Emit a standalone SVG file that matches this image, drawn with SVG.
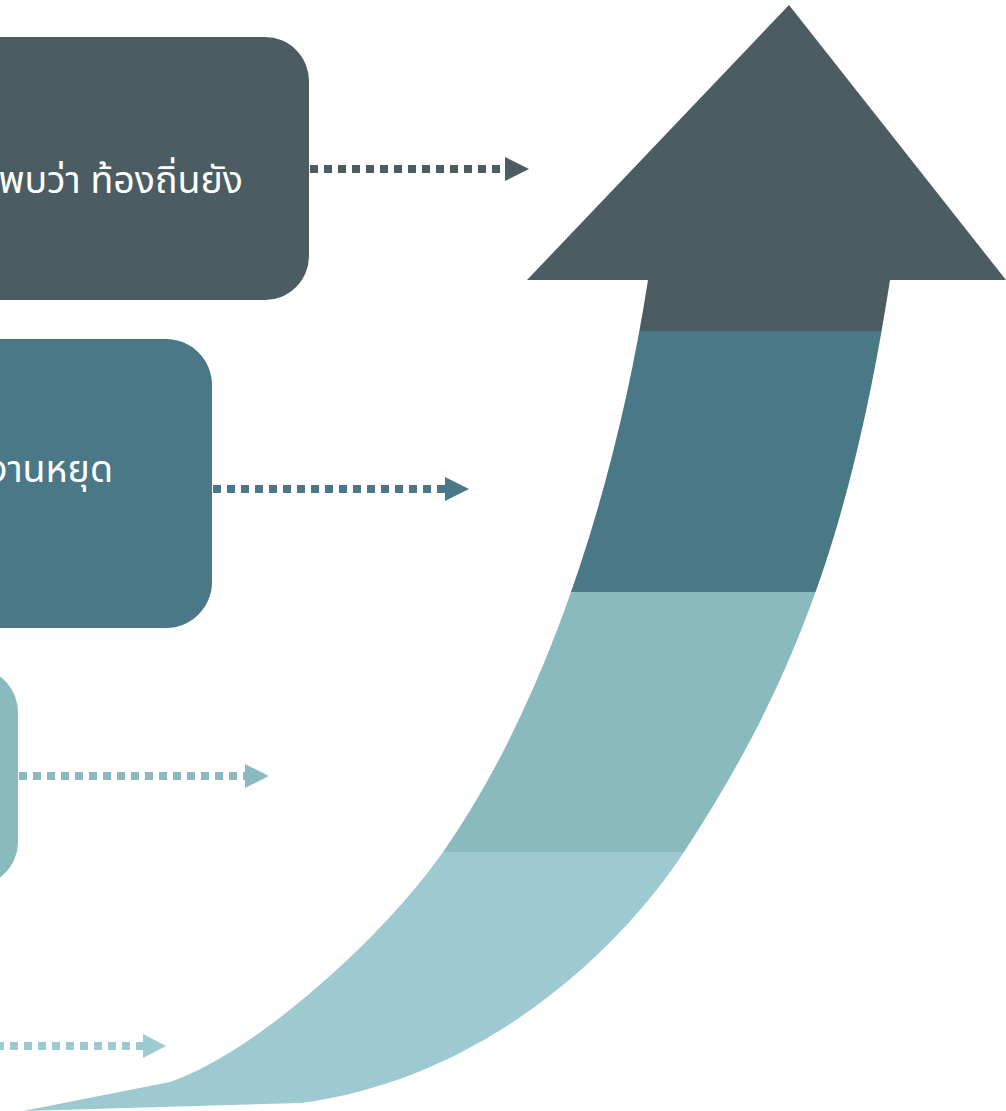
<svg xmlns="http://www.w3.org/2000/svg" width="1006" height="1111" viewBox="0 0 1006 1111">
  <style>
    .lbl { font-family: "Noto Sans Thai", "Noto Sans", "Liberation Sans", sans-serif; font-size: 37.5px; fill: #ffffff; text-anchor: end; }
    .c1 { fill: #4B5D63; }
    .c2 { fill: #4A7886; }
    .c3 { fill: #8ABABE; }
    .c4 { fill: #9DCAD0; }
    .dot { fill: none; stroke-width: 8; stroke-dasharray: 8 6; }
  </style>
  <defs>
    <clipPath id="shaft">
      <path d="M648,280 C614.9,493.8 544.2,707.5 443,852 C385.7,933.9 260,1050.5 170,1082 L23,1111 L300,1103 C490,1078 623.5,944 684,852 C790,690 849.5,541 890,280 Z"/>
    </clipPath>
  </defs>

  <g id="big-arrow">
    <g clip-path="url(#shaft)">
      <rect class="c1" x="0" y="270" width="1006" height="61"/>
      <rect class="c2" x="0" y="331" width="1006" height="261"/>
      <rect class="c3" x="0" y="592" width="1006" height="260"/>
      <rect class="c4" x="0" y="852" width="1006" height="259"/>
    </g>
    <polygon class="c1" points="789,5 1006,280 527,280"/>
  </g>

  <g id="node-1">
    <rect class="c1" x="-100" y="37" width="409" height="263" rx="44" ry="44"/>
    <text class="lbl" x="243" y="193">พบว่า ท้องถิ่นยัง</text>
  </g>
  <g id="node-2">
    <rect class="c2" x="-100" y="339" width="312" height="289" rx="46" ry="46"/>
    <text class="lbl" x="113" y="482">งานหยุด</text>
  </g>
  <g id="node-3">
    <rect class="c3" x="-100" y="668" width="118" height="218" rx="44" ry="44"/>
  </g>

  <g id="connectors">
    <line class="dot" x1="310" y1="169" x2="505" y2="169" stroke="#4B5D63"/>
    <polygon class="c1" points="505,157 529,169 505,181"/>
    <line class="dot" x1="213" y1="489" x2="445" y2="489" stroke="#4A7886"/>
    <polygon class="c2" points="445,477 469,489 445,501"/>
    <line class="dot" x1="19" y1="776" x2="245" y2="776" stroke="#8ABABE"/>
    <polygon class="c3" points="245,764 269,776 245,788"/>
    <line class="dot" x1="-4" y1="1046" x2="143" y2="1046" stroke="#9DCAD0"/>
    <polygon class="c4" points="143,1034 166,1046 143,1058"/>
  </g>
</svg>
